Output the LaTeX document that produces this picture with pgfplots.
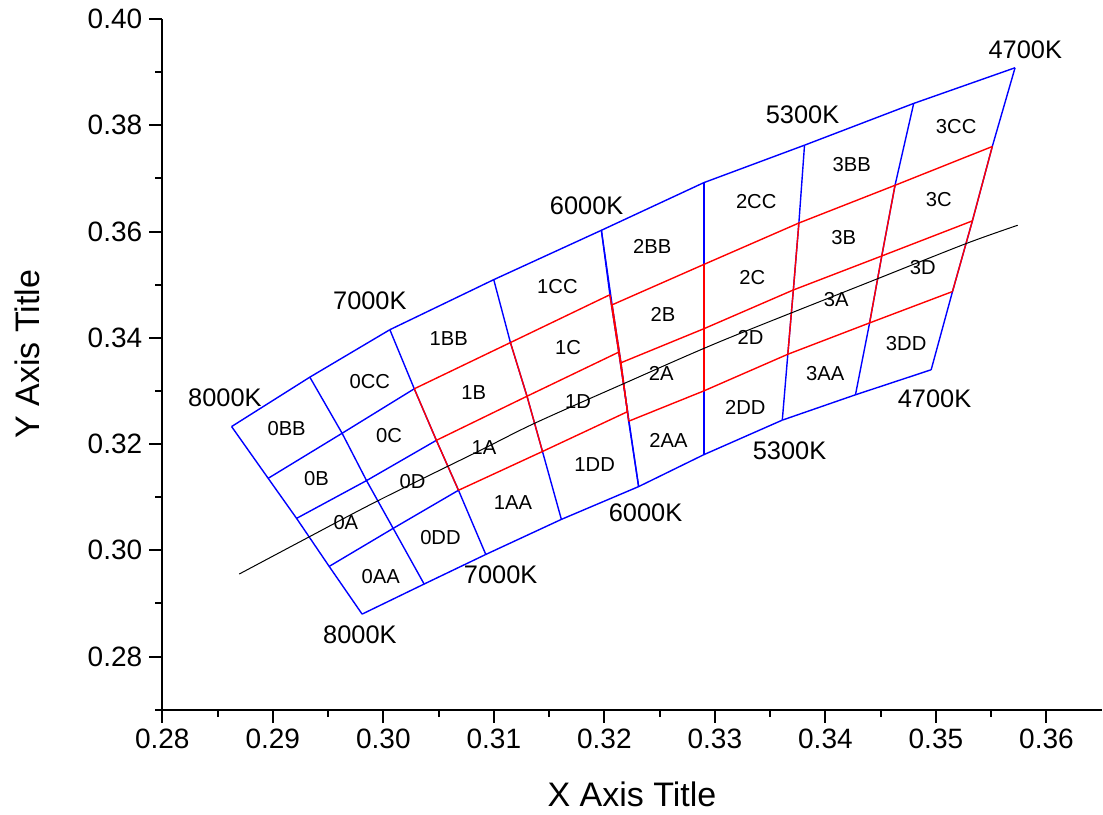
\documentclass[border=0pt]{standalone}
\usepackage{pgfplots}
\pgfplotsset{compat=1.18}
\usepackage{fontspec}
\setmainfont{Liberation Sans}
\definecolor{bblue}{RGB}{0,0,255}
\definecolor{rred}{RGB}{255,0,0}
\begin{document}
\begin{tikzpicture}[
  bin/.style={font=\fontsize{10.1}{12}\selectfont},
  cct/.style={font=\fontsize{12.7}{15}\selectfont}]
\path[use as bounding box] (0,0) rectangle (551.5pt,407pt);
\begin{axis}[
  at={(81.15pt,52.15pt)}, anchor=south west,
  scale only axis, width=469.7pt, height=345.35pt,
  xmin=0.28, xmax=0.365, ymin=0.27, ymax=0.40,
  axis x line*=bottom, axis y line*=left,
  axis line style={line width=1pt, -},
  tick align=outside,
  major tick length=6.5pt, minor tick length=3.5pt,
  every tick/.style={line width=1pt, black},
  xtick={0.28,0.29,0.30,0.31,0.32,0.33,0.34,0.35,0.36},
  minor xtick={0.285,0.295,0.305,0.315,0.325,0.335,0.345,0.355},
  ytick={0.28,0.30,0.32,0.34,0.36,0.38,0.40},
  minor ytick={0.27,0.29,0.31,0.33,0.35,0.37,0.39},
  scaled ticks=false,
  /pgf/number format/.cd, fixed, fixed zerofill, precision=2, assume math mode=true,
  /pgfplots/.cd,
  tick label style={font=\fontsize{14}{16}\selectfont},
  xticklabel style={yshift=0.5pt},
  xlabel={X Axis Title}, ylabel={Y Axis Title},
  label style={font=\fontsize{17}{20}\selectfont},
  xlabel style={at={(axis description cs:0.5,-0.1228)}, anchor=center},
  ylabel style={at={(axis description cs:-0.1435,0.515)}, anchor=center},
  clip=false,
  bl/.style={bblue, line width=0.7pt, mark=none},
  rd/.style={rred, line width=0.7pt, mark=none},
]
% ---------- Group 0 (all blue) ----------
\addplot[bl] coordinates {(0.28627,0.32329) (0.29335,0.33259) (0.30059,0.34152)};
\addplot[bl] coordinates {(0.28958,0.31355) (0.29627,0.32203) (0.3028,0.3304)};
\addplot[bl] coordinates {(0.29215,0.30601) (0.29848,0.31312) (0.3048,0.3207)};
\addplot[bl] coordinates {(0.29510,0.29697) (0.30089,0.30413) (0.3068,0.3113)};
\addplot[bl] coordinates {(0.29808,0.28799) (0.30369,0.29365) (0.30927,0.29922)};
\addplot[bl] coordinates {(0.28627,0.32329) (0.28958,0.31355) (0.29215,0.30601) (0.29510,0.29697) (0.29808,0.28799)};
\addplot[bl] coordinates {(0.29335,0.33259) (0.29627,0.32203) (0.29848,0.31312) (0.30089,0.30413) (0.30369,0.29365)};
\addplot[bl] coordinates {(0.30059,0.34152) (0.3028,0.3304) (0.3048,0.3207) (0.3068,0.3113) (0.30927,0.29922)};
% ---------- Group 1 ----------
\addplot[bl] coordinates {(0.30059,0.34152) (0.30999,0.35094) (0.31973,0.36023)};
\addplot[bl] coordinates {(0.30927,0.29922) (0.31611,0.30582) (0.32310,0.31199)};
\addplot[bl] coordinates {(0.30999,0.35094) (0.3115,0.3391) (0.3130,0.3290) (0.3144,0.3186) (0.31611,0.30582)};
\addplot[bl] coordinates {(0.31973,0.36023) (0.3205,0.3481) (0.3213,0.3373) (0.3221,0.3261) (0.32310,0.31199)};
% ---------- Group 2 ----------
\addplot[bl] coordinates {(0.31973,0.36023) (0.3290,0.3692) (0.33811,0.37625)};
\addplot[bl] coordinates {(0.32310,0.31199) (0.3290,0.3180) (0.3361,0.3245)};
\addplot[bl] coordinates {(0.31973,0.36023) (0.3207,0.3462) (0.3215,0.3353) (0.3222,0.3243) (0.32310,0.31199)};
\addplot[bl] coordinates {(0.3290,0.3692) (0.3290,0.3538) (0.3290,0.3417) (0.3290,0.3300) (0.3290,0.3180)};
\addplot[bl] coordinates {(0.33811,0.37625) (0.3376,0.3616) (0.3371,0.3490) (0.3366,0.3369) (0.3361,0.3245)};
% ---------- Group 3 ----------
\addplot[bl] coordinates {(0.33811,0.37625) (0.34799,0.38411) (0.35716,0.39082)};
\addplot[bl] coordinates {(0.3361,0.3245) (0.34272,0.32927) (0.34957,0.33398)};
\addplot[bl] coordinates {(0.34799,0.38411) (0.3463,0.3687) (0.3451,0.3554) (0.3440,0.3428) (0.34272,0.32927)};
\addplot[bl] coordinates {(0.35716,0.39082) (0.3551,0.3760) (0.3533,0.3620) (0.3515,0.3487) (0.34957,0.33398)};
% ---------- ANSI quadrangles (red) ----------
\addplot[rd] coordinates {(0.3028,0.3304) (0.3115,0.3391) (0.3205,0.3481)};
\addplot[rd] coordinates {(0.3048,0.3207) (0.3130,0.3290) (0.3213,0.3373)};
\addplot[rd] coordinates {(0.3068,0.3113) (0.3144,0.3186) (0.3221,0.3261)};
\addplot[rd] coordinates {(0.3028,0.3304) (0.3048,0.3207) (0.3068,0.3113)};
\addplot[rd] coordinates {(0.3115,0.3391) (0.3130,0.3290) (0.3144,0.3186)};
\addplot[rd] coordinates {(0.3205,0.3481) (0.3213,0.3373) (0.3221,0.3261)};
\addplot[rd] coordinates {(0.3207,0.3462) (0.3290,0.3538) (0.3376,0.3616)};
\addplot[rd] coordinates {(0.3215,0.3353) (0.3290,0.3417) (0.3371,0.3490)};
\addplot[rd] coordinates {(0.3222,0.3243) (0.3290,0.3300) (0.3366,0.3369)};
\addplot[rd] coordinates {(0.3207,0.3462) (0.3215,0.3353) (0.3222,0.3243)};
\addplot[rd] coordinates {(0.3290,0.3538) (0.3290,0.3417) (0.3290,0.3300)};
\addplot[rd] coordinates {(0.3376,0.3616) (0.3371,0.3490) (0.3366,0.3369)};
\addplot[rd] coordinates {(0.3376,0.3616) (0.3463,0.3687) (0.3551,0.3760)};
\addplot[rd] coordinates {(0.3371,0.3490) (0.3451,0.3554) (0.3533,0.3620)};
\addplot[rd] coordinates {(0.3366,0.3369) (0.3440,0.3428) (0.3515,0.3487)};
\addplot[rd] coordinates {(0.3463,0.3687) (0.3451,0.3554) (0.3440,0.3428)};
\addplot[rd] coordinates {(0.3551,0.3760) (0.3533,0.3620) (0.3515,0.3487)};
% ---------- Black locus ----------
\addplot[black, line width=0.5pt, mark=none, smooth] coordinates {
 (0.28696,0.29553) (0.29320,0.30243) (0.29953,0.30935) (0.30873,0.31877)
 (0.31370,0.32392) (0.32184,0.33145) (0.33072,0.33950) (0.34474,0.35113)
 (0.35273,0.35773) (0.35740,0.36118)};
% ---------- Bin labels ----------
\node[bin] at (axis cs:0.29125,0.32286) {0BB};
\node[bin] at (axis cs:0.29878,0.33183) {0CC};
\node[bin] at (axis cs:0.29396,0.31344) {0B};
\node[bin] at (axis cs:0.30052,0.32160) {0C};
\node[bin] at (axis cs:0.29661,0.30526) {0A};
\node[bin] at (axis cs:0.30264,0.31293) {0D};
\node[bin] at (axis cs:0.29977,0.29502) {0AA};
\node[bin] at (axis cs:0.30517,0.30243) {0DD};
\node[bin] at (axis cs:0.30592,0.33994) {1BB};
\node[bin] at (axis cs:0.31575,0.34968) {1CC};
\node[bin] at (axis cs:0.30818,0.32976) {1B};
\node[bin] at (axis cs:0.31671,0.33813) {1C};
\node[bin] at (axis cs:0.30911,0.31939) {1A};
\node[bin] at (axis cs:0.31761,0.32800) {1D};
\node[bin] at (axis cs:0.31174,0.30891) {1AA};
\node[bin] at (axis cs:0.31912,0.31607) {1DD};
\node[bin] at (axis cs:0.32434,0.35722) {2BB};
\node[bin] at (axis cs:0.33374,0.36557) {2CC};
\node[bin] at (axis cs:0.32530,0.34435) {2B};
\node[bin] at (axis cs:0.33338,0.35143) {2C};
\node[bin] at (axis cs:0.32515,0.33323) {2A};
\node[bin] at (axis cs:0.33323,0.34012) {2D};
\node[bin] at (axis cs:0.32581,0.32066) {2AA};
\node[bin] at (axis cs:0.33275,0.32693) {2DD};
\node[bin] at (axis cs:0.34239,0.37262) {3BB};
\node[bin] at (axis cs:0.35183,0.37983) {3CC};
\node[bin] at (axis cs:0.34166,0.35878) {3B};
\node[bin] at (axis cs:0.35025,0.36602) {3C};
\node[bin] at (axis cs:0.34098,0.34717) {3A};
\node[bin] at (axis cs:0.34881,0.35313) {3D};
\node[bin] at (axis cs:0.33998,0.33334) {3AA};
\node[bin] at (axis cs:0.34731,0.33899) {3DD};
% ---------- CCT labels ----------
\node[cct] at (axis cs:0.28567,0.32876) {8000K};
\node[cct] at (axis cs:0.29878,0.34704) {7000K};
\node[cct] at (axis cs:0.31840,0.36476) {6000K};
\node[cct] at (axis cs:0.33793,0.38191) {5300K};
\node[cct] at (axis cs:0.35809,0.39416) {4700K};
\node[cct] at (axis cs:0.29788,0.28409) {8000K};
\node[cct] at (axis cs:0.31062,0.29540) {7000K};
\node[cct] at (axis cs:0.32373,0.30709) {6000K};
\node[cct] at (axis cs:0.33675,0.31877) {5300K};
\node[cct] at (axis cs:0.34987,0.32851) {4700K};
\end{axis}
\end{tikzpicture}
\end{document}
